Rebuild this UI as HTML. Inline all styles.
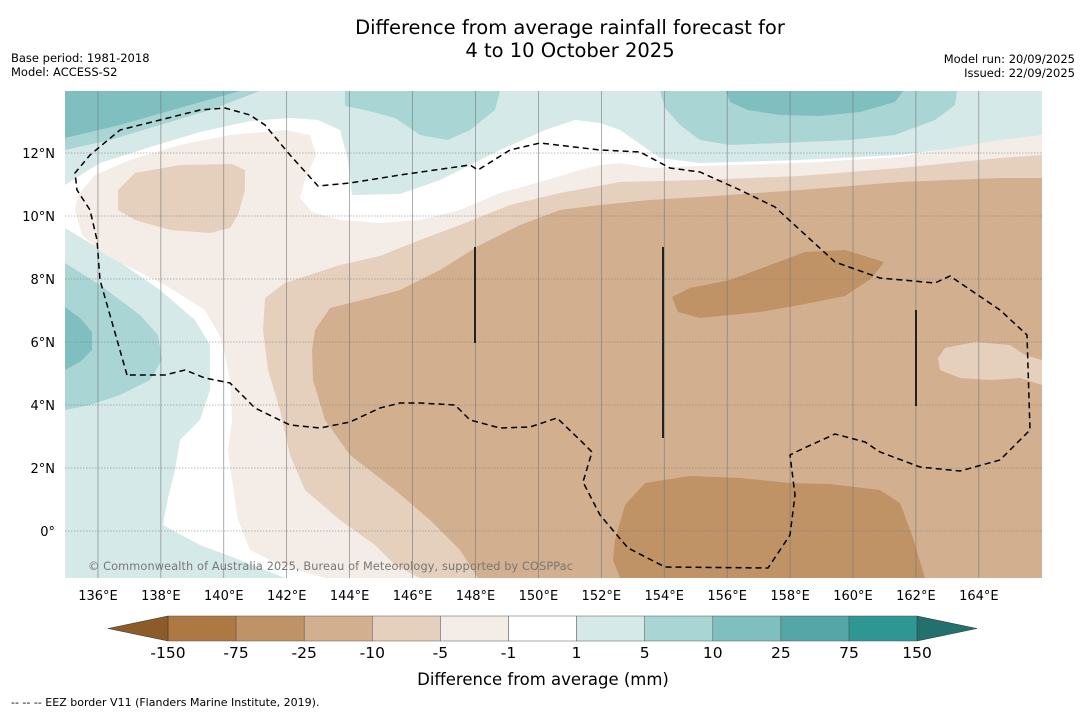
<!DOCTYPE html>
<html><head><meta charset="utf-8"><style>
body{margin:0;background:#fff;width:1085px;height:713px;overflow:hidden;font-family:"Liberation Sans",sans-serif}
svg{position:absolute;left:0;top:0}
</style></head><body>
<svg id="chart" width="1085" height="713" xmlns="http://www.w3.org/2000/svg" font-family="DejaVu Sans, Liberation Sans, sans-serif">
<text x="570" y="34" text-anchor="middle" font-size="19.5">Difference from average rainfall forecast for</text>
<text x="570" y="57" text-anchor="middle" font-size="19.5">4 to 10 October 2025</text>
<text x="11" y="62" font-size="11.5">Base period: 1981-2018</text>
<text x="11" y="76" font-size="11.5">Model: ACCESS-S2</text>
<text x="1075" y="63" text-anchor="end" font-size="11.5">Model run: 20/09/2025</text>
<text x="1075" y="77" text-anchor="end" font-size="11.5">Issued: 22/09/2025</text>
<defs><clipPath id="mapclip"><rect x="65" y="91" width="977" height="487"/></clipPath></defs>
<g clip-path="url(#mapclip)">
<rect x="65" y="91" width="977" height="487" fill="#fff"/>
<path fill="#d5e9e8" d="M65,91 L1042,91 L1042,135 L980,145 L900,155 L800,160 L700,163 L660,158 L620,130 L600,123 L575,120 L545,130 L500,150 L470,165 L440,180 L400,194 L352,195 L348,160 L340,130 L318,120 L290,118 L250,121 L200,132 L150,147 L100,163 L65,185 Z"/>
<path fill="#aad5d5" d="M65,91 L260,91 L210,110 L160,125 L110,140 L65,150 Z"/>
<path fill="#80bfbf" d="M65,91 L240,91 L190,105 L120,125 L65,138 Z"/>
<path fill="#aad5d5" d="M345,91 L500,91 L495,110 L470,130 L448,140 L420,135 L395,118 L365,110 L345,106 Z"/>
<path fill="#aad5d5" d="M660,91 L957,91 L955,105 L935,120 L895,135 L850,140 L780,143 L730,145 L700,140 L680,125 L665,108 Z"/>
<path fill="#80bfbf" d="M726,91 L903,91 L895,102 L860,112 L820,116 L780,115 L748,110 L730,102 Z"/>
<path fill="#d5e9e8" d="M65,228 L110,255 L160,290 L195,320 L210,345 L210,390 L200,420 L180,440 L175,470 L168,498 L163,525 L200,545 L240,560 L285,578 L65,578 Z"/>
<path fill="#aad5d5" d="M65,263 L100,285 L140,315 L158,335 L162,360 L150,380 L120,395 L90,405 L65,410 Z"/>
<path fill="#80bfbf" d="M65,307 L80,318 L92,332 L92,350 L80,362 L65,370 Z"/>
<path fill="#f4ece6" d="M78,195 L95,175 L130,160 L180,145 L230,135 L285,130 L310,135 L316,155 L305,180 L300,198 L312,212 L340,220 L380,223 L420,220 L460,210 L500,193 L540,182 L580,170 L600,165 L620,163 L650,168 L700,166 L800,163 L900,157 L1000,140 L1042,135 L1042,578 L325,578 L280,565 L250,550 L238,520 L232,480 L228,450 L232,420 L230,380 L222,340 L205,310 L165,285 L105,255 L82,235 L75,210 Z"/>
<path fill="#e5d0bd" d="M118,190 L135,173 L180,165 L232,164 L245,170 L245,190 L238,215 L230,228 L210,233 L170,230 L135,220 L118,210 Z"/>
<path fill="#e5d0bd" d="M265,298 L285,283 L340,265 L380,256 L420,240 L460,225 L510,205 L560,193 L620,182 L700,180 L800,176 L900,168 L1000,158 L1042,155 L1042,578 L420,578 L395,565 L375,545 L340,520 L305,490 L290,455 L280,410 L268,370 L263,330 Z"/>
<path fill="#d2b08f" d="M315,330 L330,308 L370,298 L400,290 L440,270 L480,245 L520,225 L560,210 L600,205 L650,200 L700,197 L800,190 L900,182 L1000,178 L1042,178 L1042,578 L478,578 L460,550 L430,520 L395,490 L350,455 L325,420 L313,380 L312,350 Z"/>
<path fill="#e5d0bd" d="M938,358 L945,348 L975,342 L1010,345 L1025,355 L1042,360 L1042,385 L1020,378 L990,380 L960,378 L940,370 Z"/>
<path fill="#bf9366" d="M672,297 L690,288 L730,280 L770,265 L805,252 L845,250 L884,262 L872,278 L845,296 L800,305 L760,312 L700,318 L678,312 Z"/>
<path fill="#bf9366" d="M615,540 L625,505 L645,483 L690,476 L740,478 L790,483 L830,484 L880,490 L900,503 L912,535 L925,578 L620,578 L613,560 Z"/>
<g id="grid" stroke="#777" stroke-width="0.6"></g>
<path fill="none" stroke="#000" stroke-width="1.5" stroke-dasharray="6,4" d="M127,375 L100,280 L97,240 L90,210 L77,190 L75,173 L90,155 L120,130 L160,120 L200,110 L225,108 L250,115 L265,125 L290,155 L318,186 L350,183 L400,175 L470,165 L478,170 L510,150 L540,143 L600,150 L640,152 L670,168 L700,172 L740,190 L775,207 L800,230 L835,262 L880,278 L935,283 L950,276 L1000,310 L1027,335 L1030,430 L1000,460 L960,471 L920,467 L880,452 L865,442 L835,434 L800,450 L790,455 L795,495 L790,535 L768,568 L665,567 L628,548 L600,515 L583,482 L592,452 L580,440 L557,418 L530,427 L500,428 L470,420 L455,405 L420,403 L400,403 L380,408 L350,422 L320,428 L290,425 L255,408 L230,383 L205,378 L185,370 L165,375 Z"/>
<line x1="475" y1="247" x2="475" y2="343" stroke="#222" stroke-width="2"/>
<line x1="663" y1="247" x2="663" y2="438" stroke="#222" stroke-width="2"/>
<line x1="916" y1="310" x2="916" y2="406" stroke="#222" stroke-width="2"/>
<text x="88" y="570" font-size="11.3" fill="#777" textLength="485">© Commonwealth of Australia 2025, Bureau of Meteorology, supported by COSPPac</text>
</g>
<g id="axes"></g>
<g id="colorbar"></g>
<text x="543" y="685" text-anchor="middle" font-size="16.5">Difference from average (mm)</text>
<text x="11" y="706" font-size="11">--  --  -- EEZ border V11 (Flanders Marine Institute, 2019).</text>
</svg>
<script>
const lonTicks=[136,138,140,142,144,146,148,150,152,154,156,158,160,162,164];
const latTicks=[0,2,4,6,8,10,12];
const levels=["-150","-75","-25","-10","-5","-1","1","5","10","25","75","150"];
const colors=["#ad7842","#bf9366","#d2b08f","#e5d0bd","#f4ece6","#ffffff","#d5e9e8","#aad5d5","#80bfbf","#55a7a7","#2e9794"];
const NS="http://www.w3.org/2000/svg";
const xLon=l=>66.5+(l-135)*31.46;
const yLat=l=>531-l*31.5;
function mk(t,a,p){const e=document.createElementNS(NS,t);for(const k in a)e.setAttribute(k,a[k]);p.appendChild(e);return e;}
const grid=document.getElementById('grid'),axes=document.getElementById('axes');
lonTicks.forEach(l=>{const x=xLon(l);
 const g=mk('line',{x1:x,x2:x,y1:91,y2:578},grid);
 
 
 const t=mk('text',{x:x,y:600,'text-anchor':'middle','font-size':13},axes);t.textContent=l+'°E';
 
 
});
latTicks.forEach(l=>{const y=yLat(l);
 const g=mk('line',{x1:65,x2:1042,y1:y,y2:y,'stroke-dasharray':'1.5,1.5'},grid);
 
 
 const t=mk('text',{x:55,y:y+5,'text-anchor':'end','font-size':13},axes);t.textContent=l===0?'0°':l+'°N';
 
 
});
const cb=document.getElementById('colorbar');
const cx0=168,cw=68.1,cy=616,ch=25;
colors.forEach((c,i)=>{const r=mk('rect',{x:cx0+i*cw,y:cy,width:cw,height:ch,fill:c,stroke:'#555','stroke-width':0.5},cb);
 
 
});
const la=mk('polygon',{points:`${cx0},${cy} ${cx0},${cy+ch} 108,${cy+ch/2}`,fill:'#8d5a2a',stroke:'#333','stroke-width':0.5},cb);


const xe=cx0+colors.length*cw;
const ra=mk('polygon',{points:`${xe},${cy} ${xe},${cy+ch} 977,${cy+ch/2}`,fill:'#23716f',stroke:'#333','stroke-width':0.5},cb);


levels.forEach((v,i)=>{const t=mk('text',{x:cx0+i*cw,y:658,'text-anchor':'middle','font-size':15.5},cb);t.textContent=v;
 
 
});
</script>
</body></html>
